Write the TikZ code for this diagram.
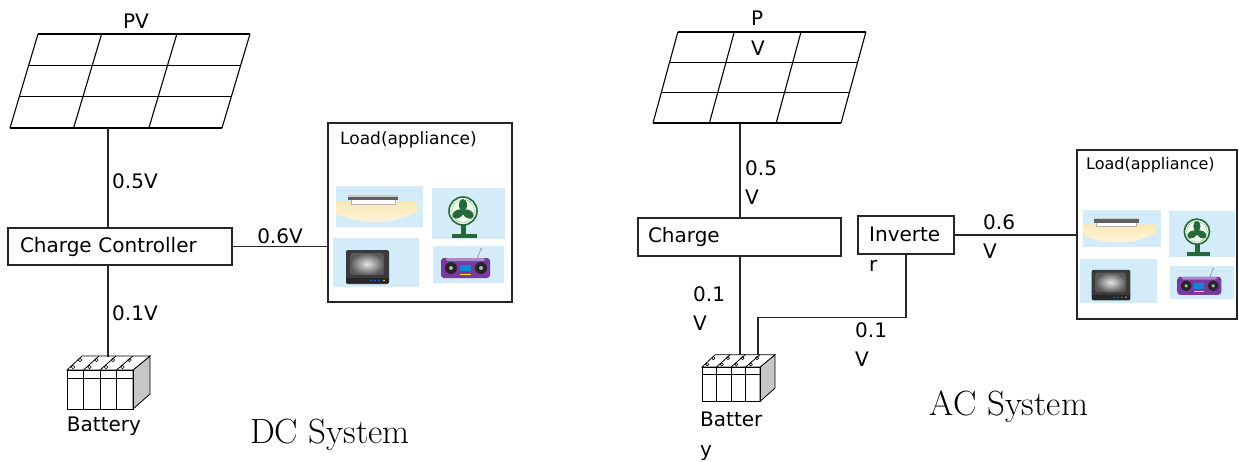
\documentclass[tikz,border=0pt]{standalone}
\usepackage{fontspec}
\newfontfamily\lblfont{DejaVu Sans}
\usetikzlibrary{positioning}

\definecolor{iconbg}{RGB}{212,236,250}
\definecolor{fangreen}{RGB}{38,104,58}
\definecolor{radiopurple}{RGB}{118,58,160}
\definecolor{tvgray}{RGB}{58,58,60}
\definecolor{lampglow}{RGB}{250,232,180}

\tikzset{
  % solar panel, origin at the lower left corner's row
  pics/pvpanel/.style={code={
    \foreach \f in {0,0.3,0.655,1}
      \draw[line width=1.1pt] (28+212*\f,0) -- (212*\f,94);
    \foreach \r in {0,1,2,3}
      \draw[line width=1.1pt] (28-28*\r/3,94*\r/3) -- (240-28*\r/3,94*\r/3);
  }},
  pics/battery/.style={code={
    \filldraw[fill=gray!45, line width=0.8pt] (66,0) -- (83,-14) -- (83,24) -- (66,39) -- cycle;
    \filldraw[fill=white, line width=0.8pt] (0,0) -- (15,-14) -- (83,-14) -- (66,0) -- cycle;
    \draw[line width=0.8pt] (0,0) rectangle (66,39);
    \draw[line width=0.6pt] (0,8) -- (66,8);
    \foreach \i in {1,2,3} {
      \draw[line width=0.8pt] (16.5*\i,0) -- (16.5*\i,39);
      \draw[line width=0.8pt] (16.5*\i,0) -- (15+17*\i,-14);
    }
    \foreach \i in {0,...,3} {
      \draw[line width=0.6pt] (16.5*\i+6,-3) circle (1.8);
      \draw[line width=0.6pt] (16.5*\i+13,-10) circle (1.8);
    }
  }},
  pics/lamp/.style={code={
    \fill[iconbg] (0,0) rectangle (87,41);
    \shade[top color=lampglow, bottom color=white!60!lampglow]
      (0,16) -- (80,16) -- (82,25) .. controls (58,39) and (25,39) .. (0,28) -- cycle;
    \filldraw[fill=white, draw=gray!60, line width=0.4pt] (15,13) rectangle (59,18);
    \fill[gray!75!black] (12,9) rectangle (62,14);
    \fill[gray!40] (12,9) rectangle (62,10.5);
  }},
  pics/fan/.style={code={
    \fill[iconbg] (0,0) rectangle (73,51);
    \fill[fangreen] (20,46) rectangle (45,49.5);
    \fill[fangreen] (29,33) rectangle (34,47);
    \filldraw[fill=green!8!white, draw=fangreen, line width=1.6pt] (31,23) circle (14);
    \draw[fangreen!70, line width=0.5pt, dash pattern=on 1pt off 1pt] (31,23) circle (11.5);
    \foreach \a in {90,210,330}
      \fill[fangreen, shift={(31,23)}, rotate=\a] (6,0) ellipse (6 and 4);
    \fill[fangreen] (31,23) circle (2.5);
  }},
  pics/tv/.style={code={
    \fill[iconbg] (0,0) rectangle (86,49);
    \fill[tvgray, rounded corners=2pt] (13,12) rectangle (56,46);
    \shade[inner color=gray!20, outer color=gray!70!black, rounded corners=3pt] (17,15) rectangle (51,37);
    \fill[black!85] (13,40) rectangle (56,45);
    \foreach \x in {38,42,46}
      \fill[blue!60!cyan] (\x,42.5) circle (1);
    \fill[yellow!80!orange] (51,42.5) circle (0.9);
  }},
  pics/radio/.style={code={
    \fill[iconbg] (0,0) rectangle (71,37);
    \draw[gray!70, line width=1pt] (44,13) -- (48,3);
    \fill[gray!70] (48,3) circle (1);
    \fill[radiopurple, rounded corners=3pt] (8,12) rectangle (57,32);
    \fill[radiopurple!60!white, rounded corners=2pt] (13,12) rectangle (52,15);
    \foreach \x in {18,48} {
      \fill[black!85] (\x,22) circle (6);
      \fill[gray!60] (\x,22) circle (2);
    }
    \fill[cyan!70!blue] (27,19) rectangle (38,25);
    \draw[yellow!90!orange, line width=0.8pt] (27,28) -- (38,28);
  }}
}

\begin{document}
\begin{tikzpicture}[x=1pt, y=-1pt,
  wire/.style={draw=black!85, line width=1.2pt},
  box/.style={draw=black!85, line width=1.2pt, inner sep=0pt},
  lbl/.style={font=\lblfont\fontsize{20}{29.5}\selectfont, inner sep=0pt, align=left},
  loadlbl/.style={font=\lblfont\fontsize{17}{20}\selectfont, inner sep=0pt},
  title/.style={font=\fontsize{35}{40}\selectfont, inner sep=0pt}]
\useasboundingbox (0,0) rectangle (1239,461);

% DC system
\node[lbl] (dcpvlbl) at (136,21) {PV};
\pic at (10,34) {pvpanel};
\coordinate (dcpv) at (108,128);

\node[box, lbl, inner xsep=12pt, text width=200pt, minimum height=37pt] (dcctrl) at (120,246.5) {Charge Controller};
\draw[wire] (dcpv) -- (dcpv |- dcctrl.north);
\node[lbl, anchor=west] at (112,181) {0.5V};

\node[box, minimum width=184pt, minimum height=179pt] (dcload) at (420,212.5) {};
\node[loadlbl, anchor=west] at (340,140) {Load(appliance)};
\pic at (336,186) {lamp};
\pic at (432,188) {fan};
\pic at (333,238) {tv};
\pic at (433,246) {radio};
\draw[wire] (dcctrl.east) -- (dcctrl.east -| dcload.west);
\node[lbl] at (280,236) {0.6V};

\pic at (67,370) {battery};
\coordinate (dcbat) at (108,357);
\draw[wire] (dcbat |- dcctrl.south) -- (dcbat);
\node[lbl, anchor=west] at (112,313) {0.1V};
\node[lbl] at (104,426) {Battery};
\node[title] at (330,435) {DC System};

% AC system
\node[lbl, anchor=north west] (acpvlbl) at (751,11) {P\\V};
\pic[xscale=0.887, yscale=0.968] at (653,32) {pvpanel};
\coordinate (acpv) at (740,123);

\node[box, lbl, inner xsep=10pt, text width=183pt, minimum height=38pt] (acctrl) at (739.5,237) {Charge};
\draw[wire] (acpv) -- (acpv |- acctrl.north);
\node[lbl, anchor=north west] at (745,160) {0.5\\V};

\node[box, minimum width=96pt, minimum height=38pt] (acinv) at (906,235) {};
\node[lbl, anchor=north west] at (869,227) {Inverte\\r};

\node[box, minimum width=160pt, minimum height=169pt] (acload) at (1157,234.5) {};
\node[loadlbl, font=\lblfont\fontsize{16}{20}\selectfont, anchor=west] at (1086,165) {Load(appliance)};
\pic[scale=0.9] at (1083,210) {lamp};
\pic[scale=0.9] at (1169,211) {fan};
\pic[scale=0.9] at (1080,259) {tv};
\pic[scale=0.9] at (1170,266) {radio};
\draw[wire] (acinv.east) -- (acinv.east -| acload.west);
\node[lbl, anchor=north west] at (983,214) {0.6\\V};

\pic[scale=0.88] at (702,367) {battery};
\coordinate (acbat1) at (740,355);
\coordinate (acbat2) at (758,355);
\draw[wire] (acbat1 |- acctrl.south) -- (acbat1);
\draw[wire] (acinv.south) -- ++(0,63) -| (acbat2);
\node[lbl, anchor=north west] at (693,286) {0.1\\V};
\node[lbl, anchor=north west] at (855,322) {0.1\\V};
\node[lbl, anchor=north west] at (700,412) {Batter\\y};
\node[title] at (1009,407) {AC System};
\end{tikzpicture}
\end{document}
